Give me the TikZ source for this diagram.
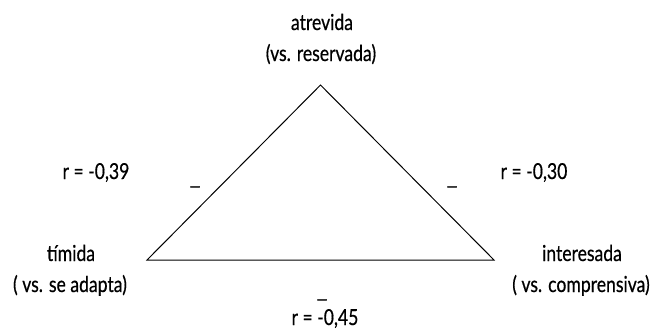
\documentclass[tikz,border=0pt]{standalone}
\usepackage{fontspec}
\setmainfont{Lato}[FakeStretch=0.8,FakeBold=0.5]
\begin{document}
\begin{tikzpicture}[x=1pt,y=-1pt,
  lbl/.style={inner sep=0pt, anchor=base, font=\fontsize{22}{30}\selectfont},
  minusmark/.style={inner sep=0pt, xscale=1.35, font=\fontsize{22}{24}\selectfont},
  edge/.style={line width=1pt, line join=miter}]
\useasboundingbox (0,0) rectangle (652,330);
\coordinate (A) at (320.5,85);
\coordinate (L) at (147,260);
\coordinate (R) at (494,260);
\draw[edge] (A) -- (L) -- (R) -- cycle;
\node[lbl] (top1) at (322,30) {atrevida};
\node[lbl] (top2) at (321,61) {(vs. reservada)};
\node[lbl] (left1) at (71,261) {tímida};
\node[lbl] (left2) at (70,292) {( vs. se adapta)};
\node[lbl] (right1) at (582,261) {interesada};
\node[lbl] (right2) at (581,292) {( vs. comprensiva)};
\node[lbl] (rl) at (96,179) {r = -0,39};
\node[lbl] (rr) at (534,179) {r = -0,30};
\node[lbl] (rb) at (325,325) {r = -0,45};
\node[minusmark] (dl) at (195,186) {\_};
\node[minusmark] (dr) at (452,186) {\_};
\node[minusmark] (db) at (322,299) {\_};
\end{tikzpicture}
\end{document}
